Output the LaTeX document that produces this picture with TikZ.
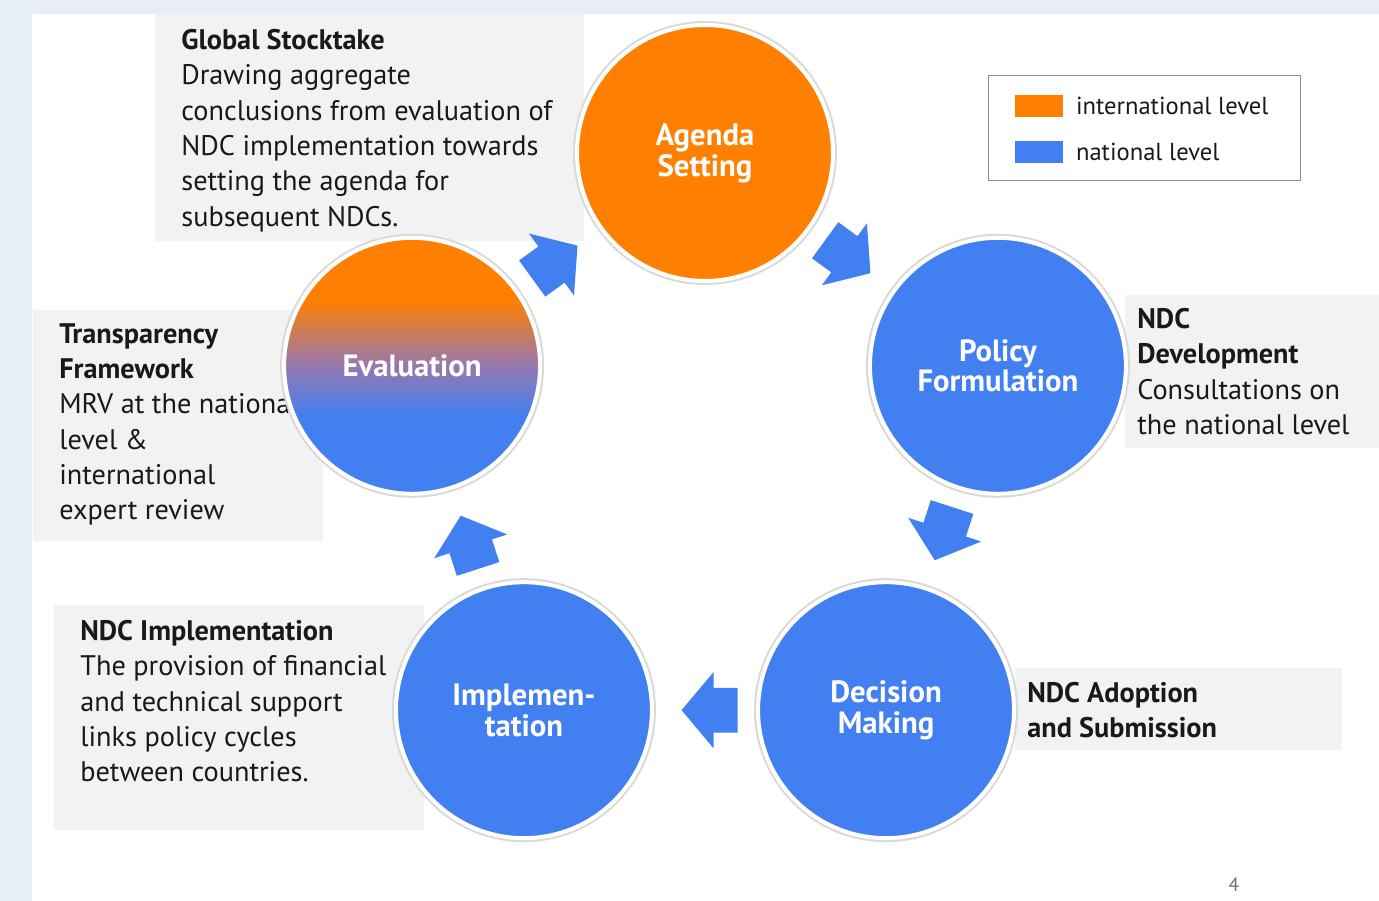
\documentclass[tikz,border=0pt]{standalone}
\usepackage{fontspec}
\setmainfont{PT Sans}
\usetikzlibrary{positioning, calc, shapes.arrows}

\definecolor{intorange}{RGB}{255,128,0}
\definecolor{natblue}{RGB}{66,128,242}
\definecolor{evalmid}{RGB}{150,120,175}
\definecolor{boxgray}{RGB}{242,242,242}
\definecolor{slideblue}{RGB}{230,238,248}
\definecolor{textdark}{RGB}{25,25,25}
\pgfdeclareverticalshading{evalshade}{100bp}{color(0bp)=(natblue); color(40bp)=(natblue); color(50bp)=(evalmid); color(63bp)=(intorange); color(100bp)=(intorange)}

\begin{document}
\begin{tikzpicture}[
	x=0.02cm,
	y=0.02cm,
	stage/.style={circle, minimum size=5.12cm, inner sep=0pt, draw=white, line width=0.08cm, preaction={draw=black!15, line width=0.16cm}, text=white, align=center, font=\bfseries\fontsize{17.5}{17.6}\selectfont},
	info box/.style={fill=boxgray, anchor=north west, inner sep=0pt},
	info text/.style={align=left, inner sep=0pt, text=textdark, font=\fontsize{16.1}{20.1}\selectfont},
	flow/.style={single arrow, fill=natblue, inner xsep=0pt, inner ysep=0.44cm, minimum height=1.12cm, single arrow head extend=0.32cm, single arrow tip angle=100, anchor=tip},
	swatch/.style={minimum width=0.96cm, minimum height=0.44cm, inner sep=0pt},
	legend text/.style={inner sep=0pt, text=textdark, font=\fontsize{14}{16}\selectfont}
]

\useasboundingbox (0,0) rectangle (1379,901);
\fill[slideblue] (0,0) rectangle (1379,901);
\fill[white] (32,0) rectangle (1379,887);

% text boxes
\node[info box, minimum width=8.58cm, minimum height=4.54cm] (stockbox) at (155,887) {};
\node[info text, below right=0.30cm and 0.52cm of stockbox.north west] (stocktext) {\textbf{Global Stocktake}\\Drawing aggregate\\conclusions from evaluation of\\NDC implementation towards\\setting the agenda for\\subsequent NDCs.};

\node[info box, minimum width=5.80cm, minimum height=4.62cm] (transbox) at (33,591) {};
\node[info text, below right=0.26cm and 0.52cm of transbox.north west] (transtext) {\textbf{Transparency}\\\textbf{Framework}\\MRV at the national\\level \&\\international\\expert review};

\node[info box, minimum width=5.08cm, minimum height=3.06cm] (devbox) at (1125,606) {};
\node[info text, below right=0.26cm and 0.24cm of devbox.north west] (devtext) {\textbf{NDC}\\\textbf{Development}\\Consultations on\\the national level};

\node[info box, minimum width=6.54cm, minimum height=1.64cm] (adoptbox) at (1015,233) {};
\node[info text, below right=0.28cm and 0.24cm of adoptbox.north west] (adopttext) {\textbf{NDC Adoption}\\\textbf{and Submission}};

\node[info box, minimum width=7.40cm, minimum height=4.50cm] (implbox) at (54,296) {};
\node[info text, below right=0.30cm and 0.52cm of implbox.north west] (impltext) {\textbf{NDC Implementation}\\The provision of financial\\and technical support\\links policy cycles\\between countries.};

% policy cycle
\coordinate (hub) at (705,440);
\node[stage, fill=intorange] (agenda) at ($(hub)+(90:308)$) {Agenda\\Setting};
\node[stage, fill=natblue] (policy) at ($(hub)+(18:308)$) {Policy\\Formulation};
\node[stage, fill=natblue] (decision) at ($(hub)+(-54:308)$) {Decision\\Making};
\node[stage, fill=natblue] (implement) at ($(hub)+(-126:308)$) {Implemen-\\tation};
\node[stage, shade, shading=evalshade] (evaluation) at ($(hub)+(162:308)$) {Evaluation};

\node[flow, rotate=36] (toagenda) at ($(evaluation)!0.566!(agenda)$) {};
\node[flow, rotate=-36] (topolicy) at ($(agenda)!0.566!(policy)$) {};
\node[flow, rotate=-108] (todecision) at ($(policy)!0.566!(decision)$) {};
\node[flow, rotate=180] (toimpl) at ($(decision)!0.566!(implement)$) {};
\node[flow, rotate=108] (toeval) at ($(implement)!0.566!(evaluation)$) {};

% legend
\node[draw=black!45, fill=white, line width=0.6pt, minimum width=6.24cm, minimum height=2.10cm, anchor=north west] (legend) at (988,826) {};
\node[swatch, fill=intorange, below right=0.40cm and 0.54cm of legend.north west] (intswatch) {};
\node[swatch, fill=natblue, below=0.46cm of intswatch] (natswatch) {};
\node[legend text, right=0.24cm of intswatch] (intlabel) {international level};
\node[legend text, right=0.24cm of natswatch] (natlabel) {national level};

\node[text=black!55, font=\fontsize{11}{13}\selectfont] (pagenum) at (1234,16) {4};

\end{tikzpicture}
\end{document}
